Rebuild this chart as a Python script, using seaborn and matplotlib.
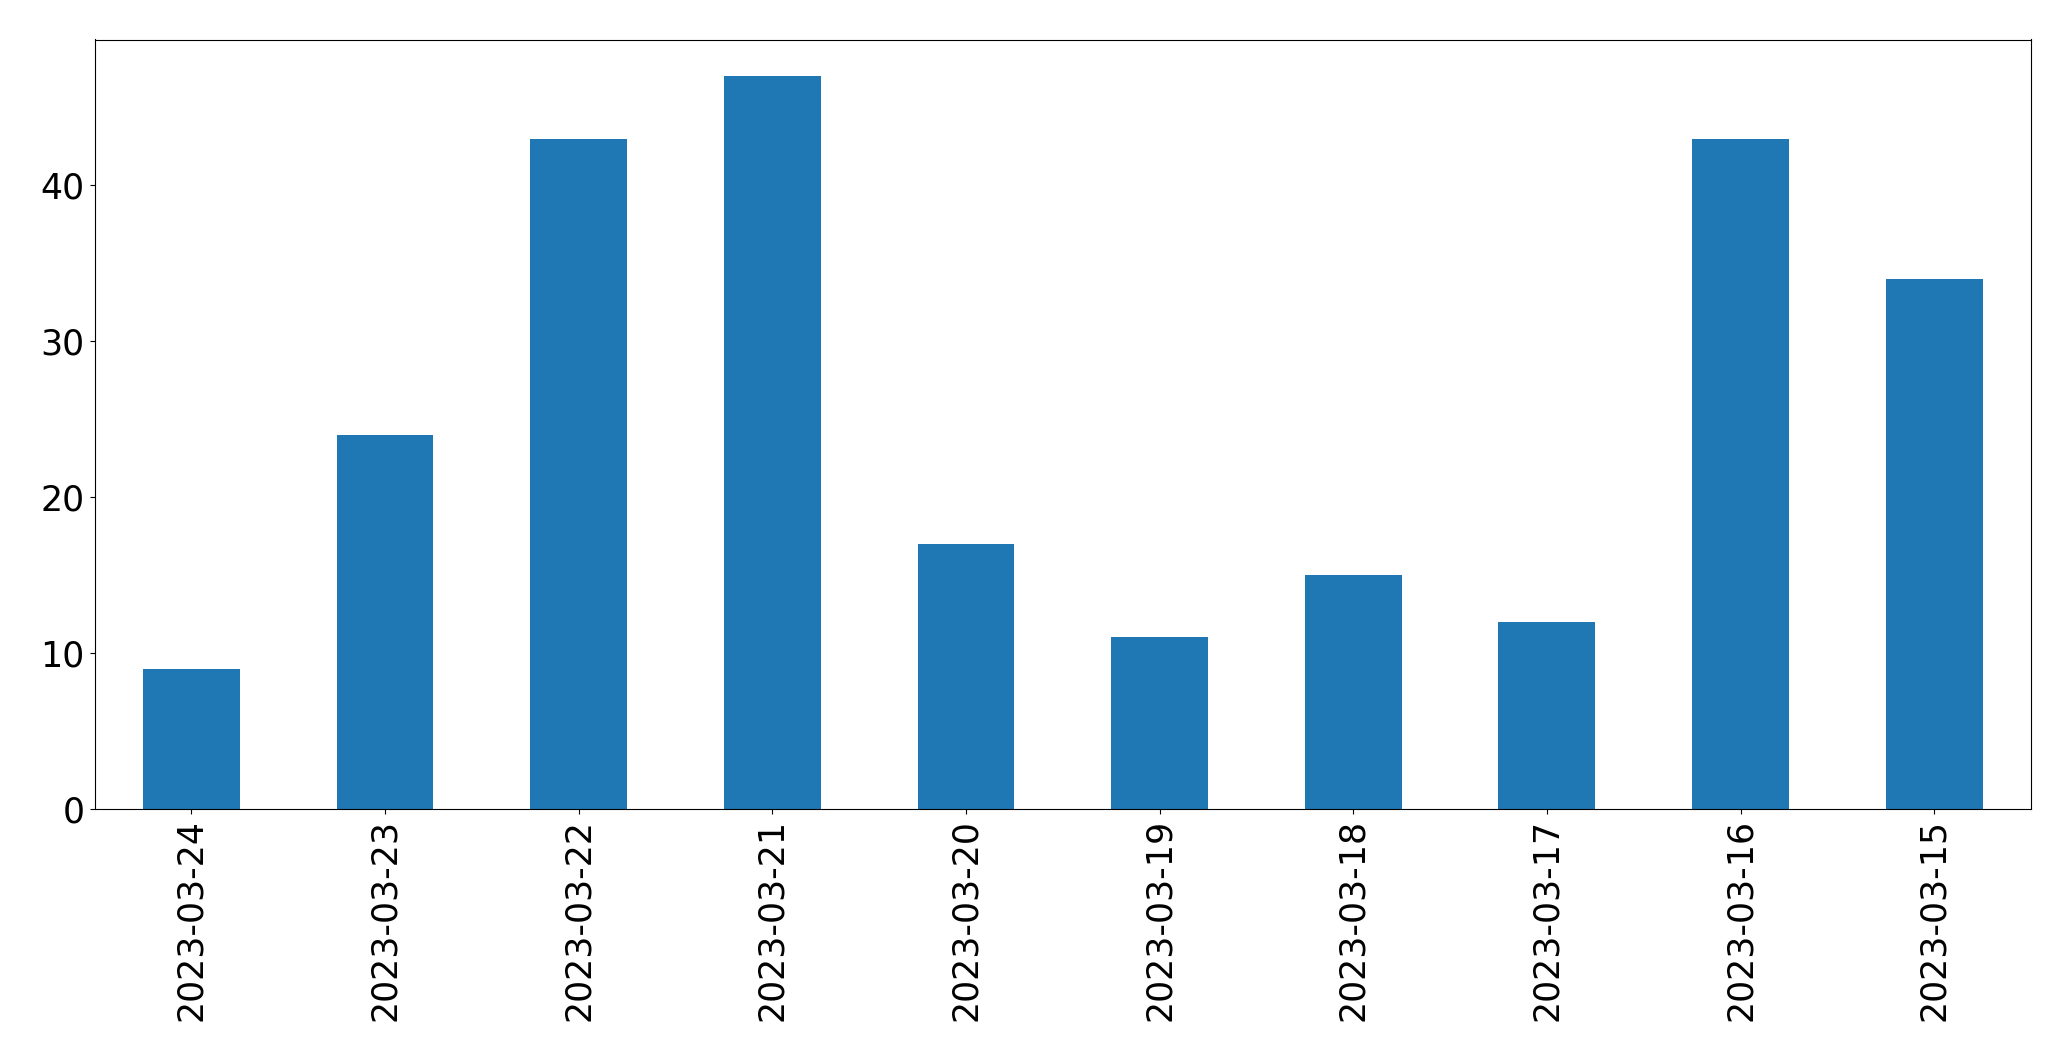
import pandas as pd
import seaborn as sns
import matplotlib.pyplot as plt

# Data
dates = [
    "2023-03-24", "2023-03-23", "2023-03-22", "2023-03-21", "2023-03-20",
    "2023-03-19", "2023-03-18", "2023-03-17", "2023-03-16", "2023-03-15",
]
counts = [9, 24, 43, 47, 17, 11, 15, 12, 43, 34]

df = pd.DataFrame({"date": dates, "count": counts})

plt.rcParams["font.size"] = 25

fig = plt.figure(figsize=(20.71, 10.61), dpi=100)
ax = fig.add_axes([94.5 / 2071, 1 - 809 / 1061, (2031 - 94.5) / 2071, (809 - 39.5) / 1061])

sns.barplot(
    data=df,
    x="date",
    y="count",
    order=dates,
    color="#1f77b4",
    saturation=1,
    width=0.5,
    linewidth=0,
    ax=ax,
)

ax.set(xlabel=None, ylabel=None)
ax.set_xlim(-0.5, len(dates) - 0.5)
ax.set_ylim(0, max(counts) * 1.05)
ax.tick_params(axis="x", labelrotation=90)

fig.savefig("out.png", dpi=100)
